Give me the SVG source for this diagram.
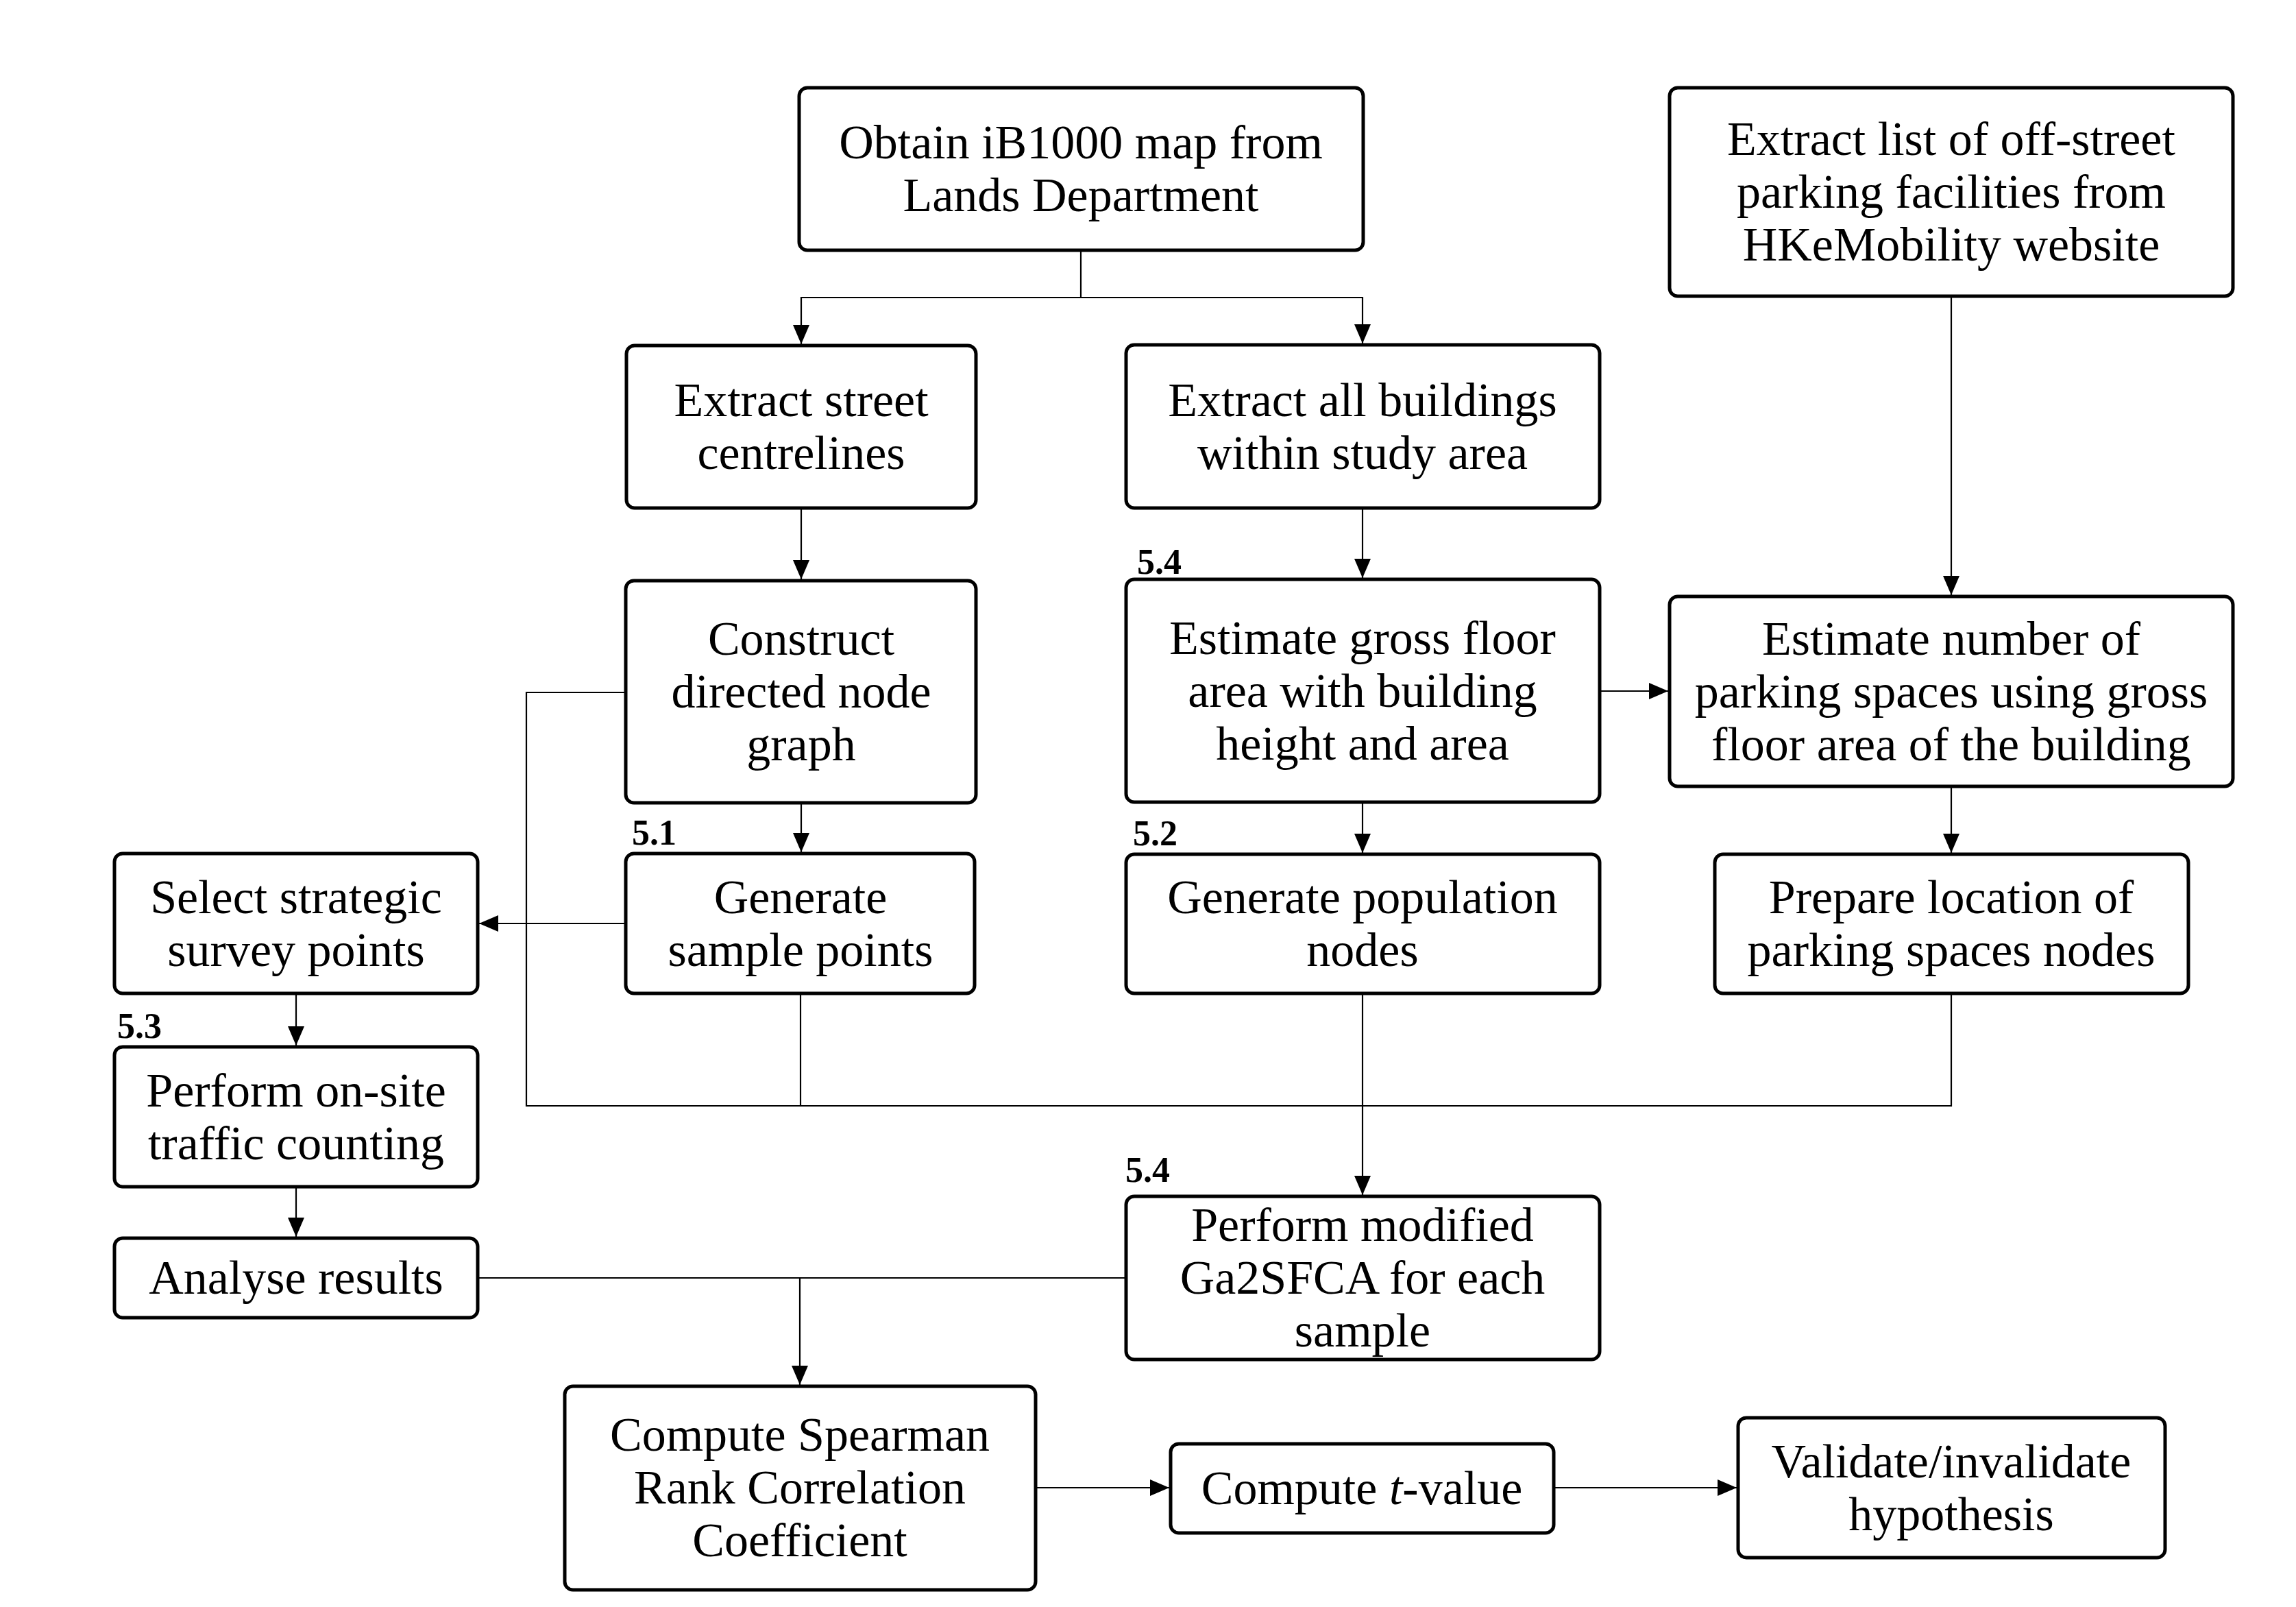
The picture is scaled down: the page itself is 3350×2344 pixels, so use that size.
<svg xmlns="http://www.w3.org/2000/svg" width="3350" height="2344" viewBox="0 0 3350 2344">
<style>
.box{fill:#fff;stroke:#000;stroke-width:5}
.t{font-family:"Liberation Serif","Times New Roman",serif;font-size:70px;text-anchor:middle;fill:#000}
.lbl{font-family:"Liberation Serif","Times New Roman",serif;font-size:52px;font-weight:bold;fill:#000}
.c{fill:none;stroke:#000;stroke-width:2.2}
.a{marker-end:url(#ah)}
</style>
<defs>
<marker id="ah" markerUnits="userSpaceOnUse" markerWidth="28" markerHeight="24" viewBox="0 0 28 24" refX="28" refY="12" orient="auto">
<path d="M0,0 L28,12 L0,24 z" fill="#000"/>
</marker>
</defs>
<rect width="3350" height="2344" fill="#fff"/>
<g id="connectors">
<path class="c a" d="M1577,366 V434 H1169 V502"/>
<path class="c a" d="M1577,434 H1988 V501"/>
<path class="c a" d="M1169,741 V845"/>
<path class="c a" d="M1988,741 V843"/>
<path class="c a" d="M2847,432 V868"/>
<path class="c a" d="M1169,1171 V1243"/>
<path class="c a" d="M1988,1170 V1244"/>
<path class="c a" d="M2334,1008 H2434"/>
<path class="c a" d="M2847,1147 V1244"/>
<path class="c a" d="M913,1347 H699"/>
<path class="c a" d="M432,1449 V1525"/>
<path class="c a" d="M432,1731 V1804"/>
<path class="c" d="M913,1010 H768 V1613 H2847 V1449"/>
<path class="c" d="M1168,1449 V1613"/>
<path class="c a" d="M1988,1449 V1743"/>
<path class="c" d="M697,1864 H1643"/>
<path class="c a" d="M1167,1864 V2020"/>
<path class="c a" d="M1511,2170 H1706"/>
<path class="c a" d="M2267,2170 H2534"/>
</g>
<g id="labels">
<text class="lbl" x="1659" y="837">5.4</text>
<text class="lbl" x="922" y="1232">5.1</text>
<text class="lbl" x="1653" y="1233">5.2</text>
<text class="lbl" x="171" y="1514">5.3</text>
<text class="lbl" x="1642" y="1724">5.4</text>
</g>
<g id="n1"><rect class="box" x="1166" y="128" width="823" height="237" rx="12"/>
<text class="t" x="1577" y="231">Obtain iB1000 map from</text><text class="t" x="1577" y="308">Lands Department</text></g>
<g id="n2"><rect class="box" x="2436" y="128" width="822" height="304" rx="12"/>
<text class="t" x="2847" y="226">Extract list of off-street</text><text class="t" x="2847" y="303">parking facilities from</text><text class="t" x="2847" y="380">HKeMobility website</text></g>
<g id="n3"><rect class="box" x="914" y="504" width="510" height="237" rx="12"/>
<text class="t" x="1169" y="607">Extract street</text><text class="t" x="1169" y="684">centrelines</text></g>
<g id="n4"><rect class="box" x="1643" y="503" width="691" height="238" rx="12"/>
<text class="t" x="1988" y="607">Extract all buildings</text><text class="t" x="1988" y="684">within study area</text></g>
<g id="n5"><rect class="box" x="913" y="847" width="511" height="324" rx="12"/>
<text class="t" x="1169" y="955">Construct</text><text class="t" x="1169" y="1032">directed node</text><text class="t" x="1169" y="1109">graph</text></g>
<g id="n6"><rect class="box" x="1643" y="845" width="691" height="325" rx="12"/>
<text class="t" x="1988" y="954">Estimate gross floor</text><text class="t" x="1988" y="1031">area with building</text><text class="t" x="1988" y="1108">height and area</text></g>
<g id="n7"><rect class="box" x="2436" y="870" width="822" height="277" rx="12"/>
<text class="t" x="2847" y="955">Estimate number of</text><text class="t" x="2847" y="1032">parking spaces using gross</text><text class="t" x="2847" y="1109">floor area of the building</text></g>
<g id="n8"><rect class="box" x="167" y="1245" width="530" height="204" rx="12"/>
<text class="t" x="432" y="1332">Select strategic</text><text class="t" x="432" y="1409">survey points</text></g>
<g id="n9"><rect class="box" x="913" y="1245" width="509" height="204" rx="12"/>
<text class="t" x="1168" y="1332">Generate</text><text class="t" x="1168" y="1409">sample points</text></g>
<g id="n10"><rect class="box" x="1643" y="1246" width="691" height="203" rx="12"/>
<text class="t" x="1988" y="1332">Generate population</text><text class="t" x="1988" y="1409">nodes</text></g>
<g id="n11"><rect class="box" x="2502" y="1246" width="691" height="203" rx="12"/>
<text class="t" x="2847" y="1332">Prepare location of</text><text class="t" x="2847" y="1409">parking spaces nodes</text></g>
<g id="n12"><rect class="box" x="167" y="1527" width="530" height="204" rx="12"/>
<text class="t" x="432" y="1614">Perform on-site</text><text class="t" x="432" y="1691">traffic counting</text></g>
<g id="n13"><rect class="box" x="167" y="1806" width="530" height="116" rx="12"/>
<text class="t" x="432" y="1887">Analyse results</text></g>
<g id="n14"><rect class="box" x="1643" y="1745" width="691" height="238" rx="12"/>
<text class="t" x="1988" y="1810">Perform modified</text><text class="t" x="1988" y="1887">Ga2SFCA for each</text><text class="t" x="1988" y="1964">sample</text></g>
<g id="n15"><rect class="box" x="824" y="2022" width="687" height="297" rx="12"/>
<text class="t" x="1167" y="2116">Compute Spearman</text><text class="t" x="1167" y="2193">Rank Correlation</text><text class="t" x="1167" y="2270">Coefficient</text></g>
<g id="n16"><rect class="box" x="1708" y="2106" width="559" height="130" rx="12"/>
<text class="t" x="1987" y="2194">Compute <tspan font-style="italic">t</tspan>-value</text></g>
<g id="n17"><rect class="box" x="2536" y="2068" width="623" height="204" rx="12"/>
<text class="t" x="2847" y="2155">Validate/invalidate</text><text class="t" x="2847" y="2232">hypothesis</text></g>
</svg>
